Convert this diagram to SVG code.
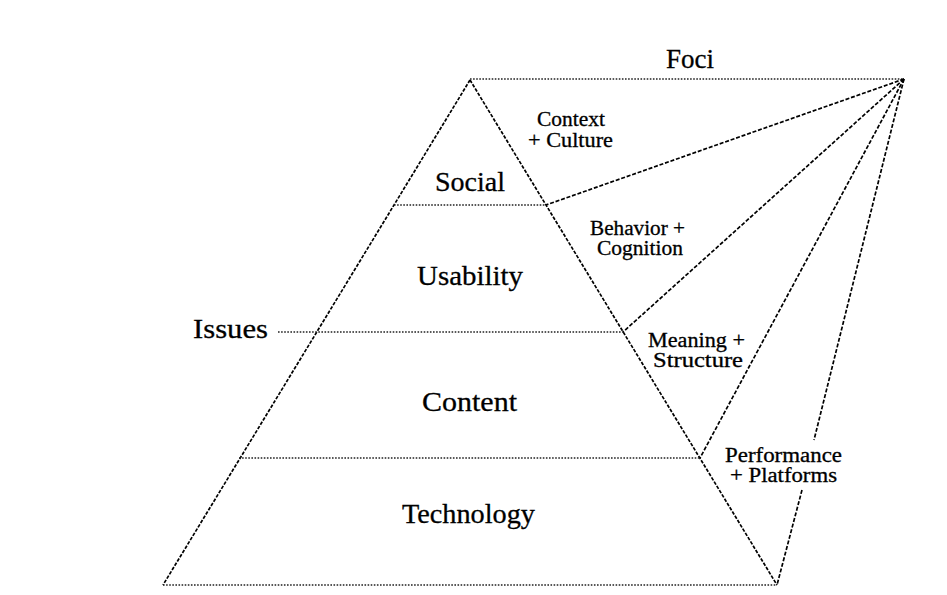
<svg xmlns="http://www.w3.org/2000/svg" width="947" height="595" viewBox="0 0 947 595">
<style>
.edge{fill:none;stroke:#000;stroke-width:1.7;stroke-dasharray:3.5 1.5}
.level{fill:none;stroke:#222;stroke-width:1.5;stroke-dasharray:1.6 1.5}
.focus{fill:none;stroke:#000;stroke-width:1.7;stroke-dasharray:4 1.8}
.big{font-family:"Liberation Serif","Times New Roman",serif;font-size:28px;fill:#000;stroke:#000;stroke-width:0.3}
.small{font-family:"Liberation Serif","Times New Roman",serif;font-size:20px;fill:#000;stroke:#000;stroke-width:0.3}
</style>
<rect x="0" y="0" width="947" height="595" fill="#ffffff"/>
<g id="connectors">
  <line class="edge" x1="470" y1="80" x2="163" y2="585"/>
  <line class="edge" x1="470" y1="80" x2="777" y2="585"/>
  <line class="level" x1="470" y1="79" x2="904" y2="79"/>
  <line class="level" x1="394" y1="205" x2="546" y2="205"/>
  <line class="level" x1="278" y1="332" x2="623" y2="332"/>
  <line class="level" x1="239" y1="458" x2="700" y2="458"/>
  <line class="level" x1="163" y1="585" x2="777" y2="585"/>
  <line class="focus" x1="904" y1="79" x2="546" y2="205"/>
  <line class="focus" x1="904" y1="79" x2="623" y2="332"/>
  <line class="focus" x1="904" y1="79" x2="700" y2="458"/>
  <line class="focus" x1="904" y1="79" x2="814" y2="440"/>
  <line class="focus" x1="802" y1="490" x2="777" y2="585"/>
</g>
<g id="foci"><text class="big" x="666" y="68" textLength="48" lengthAdjust="spacingAndGlyphs">Foci</text></g>
<g id="social"><text class="big" x="435" y="191" textLength="70" lengthAdjust="spacingAndGlyphs">Social</text></g>
<g id="usability"><text class="big" x="417" y="285" textLength="106" lengthAdjust="spacingAndGlyphs">Usability</text></g>
<g id="issues"><text class="big" x="193" y="338" textLength="75" lengthAdjust="spacingAndGlyphs">Issues</text></g>
<g id="content"><text class="big" x="422" y="411" textLength="95" lengthAdjust="spacingAndGlyphs">Content</text></g>
<g id="technology"><text class="big" x="402" y="523" textLength="133" lengthAdjust="spacingAndGlyphs">Technology</text></g>
<g id="context-culture">
  <text class="small" x="537" y="126" textLength="68" lengthAdjust="spacingAndGlyphs">Context</text>
  <text class="small" x="528" y="147" textLength="85" lengthAdjust="spacingAndGlyphs">+ Culture</text>
</g>
<g id="behavior-cognition">
  <text class="small" x="590" y="235" textLength="95" lengthAdjust="spacingAndGlyphs">Behavior +</text>
  <text class="small" x="597" y="255" textLength="86" lengthAdjust="spacingAndGlyphs">Cognition</text>
</g>
<g id="meaning-structure">
  <text class="small" x="648" y="347" textLength="97" lengthAdjust="spacingAndGlyphs">Meaning +</text>
  <text class="small" x="653" y="367" textLength="90" lengthAdjust="spacingAndGlyphs">Structure</text>
</g>
<g id="performance-platforms">
  <text class="small" x="725" y="462" textLength="117" lengthAdjust="spacingAndGlyphs">Performance</text>
  <text class="small" x="730" y="482" textLength="107" lengthAdjust="spacingAndGlyphs">+ Platforms</text>
</g>
</svg>
